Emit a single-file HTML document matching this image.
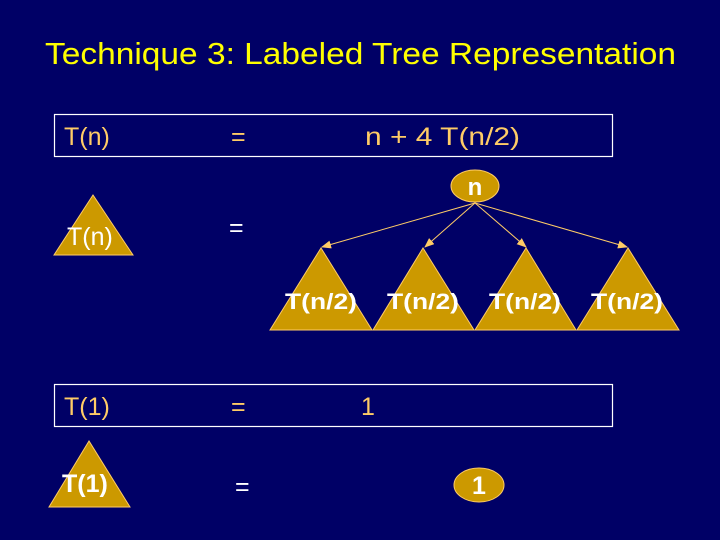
<!DOCTYPE html>
<html><head><meta charset="utf-8"><style>
html,body{margin:0;padding:0;background:#000066;}
svg{display:block}
text{font-family:"Liberation Sans",sans-serif;}
</style></head><body>
<svg width="720" height="540" viewBox="0 0 720 540" xmlns="http://www.w3.org/2000/svg">
<defs>
<marker id="ah" markerWidth="10" markerHeight="8" refX="9" refY="4" orient="auto" markerUnits="userSpaceOnUse">
<path d="M0,0 L10,4 L0,8 Z" fill="#FFCC66"/>
</marker>
</defs>
<rect width="720" height="540" fill="#000066"/>
<text x="45" y="64" font-size="31" fill="#FFFF00" textLength="631" lengthAdjust="spacingAndGlyphs">Technique 3: Labeled Tree Representation</text>

<rect x="54.5" y="114.5" width="558" height="42" fill="none" stroke="#fff" stroke-width="1.2"/>
<text x="64" y="145" font-size="25" fill="#FFCC66">T(n)</text>
<text x="231" y="145" font-size="25" fill="#FFCC66">=</text>
<text x="365" y="145" font-size="25" fill="#FFCC66" textLength="155" lengthAdjust="spacingAndGlyphs">n + 4 T(n/2)</text>

<polygon points="93,195 54,255 133,255" fill="#CC9900" stroke="#FFCC66" stroke-width="1"/>
<text x="67" y="245" font-size="25" fill="#fff">T(n)</text>
<text x="229" y="236" font-size="25" fill="#fff">=</text>

<ellipse cx="475" cy="186" rx="24" ry="16" fill="#CC9900" stroke="#FFCC66" stroke-width="1"/>
<text x="475" y="195" font-size="24" font-weight="bold" fill="#fff" text-anchor="middle">n</text>
<g stroke="#FFCC66" stroke-width="1" marker-end="url(#ah)">
<line x1="475" y1="203" x2="322" y2="247"/>
<line x1="475" y1="203" x2="425" y2="247"/>
<line x1="475" y1="203" x2="526" y2="247"/>
<line x1="475" y1="203" x2="627" y2="247"/>
</g>
<g fill="#CC9900" stroke="#FFCC66" stroke-width="1">
<polygon points="321,248 270,330 372,330"/>
<polygon points="423,248 373,330 474,330"/>
<polygon points="526,248 475,330 576,330"/>
<polygon points="628,248 577,330 679,330"/>
</g>
<g font-size="22" font-weight="bold" fill="#fff">
<text x="285" y="309" textLength="72" lengthAdjust="spacingAndGlyphs">T(n/2)</text>
<text x="387" y="309" textLength="72" lengthAdjust="spacingAndGlyphs">T(n/2)</text>
<text x="489" y="309" textLength="72" lengthAdjust="spacingAndGlyphs">T(n/2)</text>
<text x="591" y="309" textLength="72" lengthAdjust="spacingAndGlyphs">T(n/2)</text>
</g>

<rect x="54.5" y="384.5" width="558" height="42" fill="none" stroke="#fff" stroke-width="1.2"/>
<text x="64" y="415" font-size="25" fill="#FFCC66">T(1)</text>
<text x="231" y="415" font-size="25" fill="#FFCC66">=</text>
<text x="361" y="415" font-size="25" fill="#FFCC66">1</text>

<polygon points="89,441 49,507 130,507" fill="#CC9900" stroke="#FFCC66" stroke-width="1"/>
<text x="62" y="492" font-size="25" font-weight="bold" fill="#fff">T(1)</text>
<text x="235" y="495" font-size="25" fill="#fff">=</text>

<ellipse cx="479" cy="485" rx="25" ry="17" fill="#CC9900" stroke="#FFCC66" stroke-width="1"/>
<text x="479" y="494" font-size="25" font-weight="bold" fill="#fff" text-anchor="middle">1</text>
</svg>
</body></html>
